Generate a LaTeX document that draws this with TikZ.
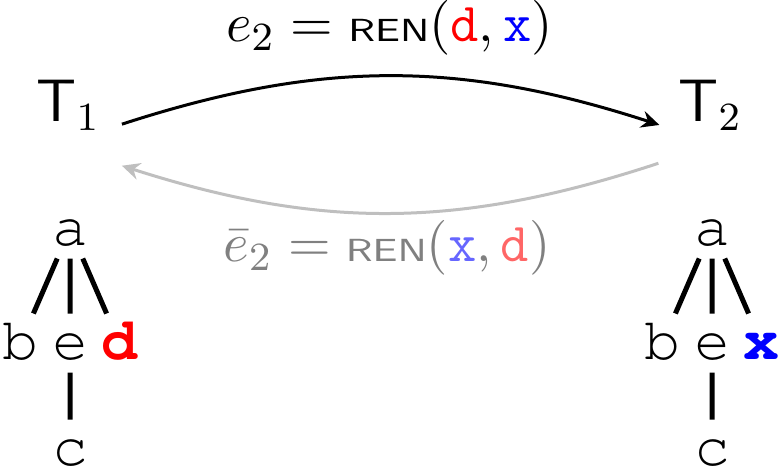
\documentclass[tikz,border=0pt]{standalone}
\usepackage{amsmath}
\usepackage[T1,TU]{fontenc}
\usepackage{graphicx}
\usepackage{xcolor}
\usepackage{tikz}
\usetikzlibrary{arrows.meta}
\newcommand{\crfont}{\fontencoding{T1}\fontfamily{pcr}\selectfont}
\newcommand{\lbl}[1]{\text{\ttfamily #1}}
\newcommand{\ren}{\text{\sffamily\scalebox{1.22}[1]{\fontsize{6.4}{7}\selectfont REN}}}

\begin{document}
\begin{tikzpicture}[line width=1pt, font=\large,
    leaf/.style={font=\large\crfont, text height=6.4pt, text depth=0pt, inner sep=2.2pt, anchor=base},
    edit/.style={-{Stealth[length=3.6pt, width=3.4pt, inset=1.2pt]}, semithick},
    editlabel/.style={anchor=base, font=\fontsize{11}{13}\selectfont}]
        \useasboundingbox (0,0) rectangle (5.503,3.317);
        % Trees
        \foreach \s/\x/\name/\col in {L/0.492/d/red, R/5.004/x/blue} {
            \node[leaf] (a\s) at (\x,1.595) {a};
            \node[leaf] (b\s) at ({\x-0.347},0.794) {b};
            \node[leaf] (e\s) at (\x,0.794) {e};
            \node[leaf, \col] (n\s) at ({\x+0.347},0.794) {\bfseries\name};
            \node[leaf] (c\s) at (\x,0.049) {c};
            \draw (a\s) -- (b\s) (a\s) -- (e\s) (a\s) -- (n\s) (e\s) -- (c\s);
        }
        % Versions
        \node[anchor=base] (T1) at (0.481,2.460) {$\mathsf{T}_1$};
        \node[anchor=base] (T2) at (4.993,2.460) {$\mathsf{T}_2$};
        % Edit and its inverse
        \draw[edit, shorten <=0.5pt] ([yshift=-0.6pt]T1.base east) to[bend left=18] ([yshift=-0.6pt]T2.base west);
        \draw[edit, black!25, shorten <=0.2pt, shorten >=0.5pt] ([yshift=-8.2pt]T2.base west) to[bend left=18] ([yshift=-8.6pt]T1.base east);
        \node[editlabel] (fwd) at (2.737,3.022) {$e_2 = \ren(\lbl{\color{red}d}, \lbl{\color{blue}x})$};
        \node[editlabel, black!50] (inv) at (2.720,1.476) {$\bar{e}_2 = \ren(\lbl{\color{blue!60}x}, \lbl{\color{red!60}d})$};
    \end{tikzpicture}
\end{document}
